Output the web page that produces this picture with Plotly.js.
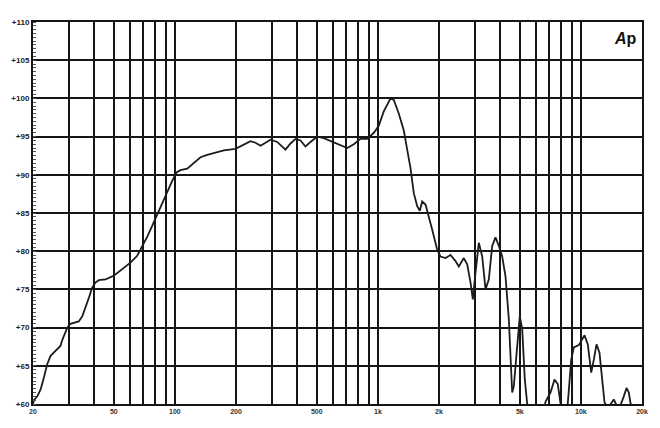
<!DOCTYPE html>
<html>
<head>
<meta charset="utf-8">
<script src="https://cdn.plot.ly/plotly-3.0.1.min.js"></script>
<style>
  html, body { margin: 0; padding: 0; background: #fff; }
  #chart { width: 660px; height: 428px; }
</style>
</head>
<body>
<div id="chart"></div>
<script>
// frequency response (Hz / dB)
const freq = [
  20, 20.2, 21.0, 21.8, 22.6, 23.5, 24.4, 25.3, 26.3, 27.3, 27.9, 28.9, 29.5, 30.6,
  32.4, 33.6, 35.0, 36.3, 37.7, 39.1, 40.6, 42.2, 45.5, 50.0, 55.0, 60.4, 65.2, 69.0,
  73.1, 77.3, 81.8, 86.6, 91.7, 97.0, 101.8, 106.6, 115.0, 123.9, 133.7, 144.3, 155.5,
  174.2, 198.9, 214.6, 235.8, 249.6, 264.1, 279.5, 295.8, 319.2, 350.7, 371.1, 392.7,
  415.6, 439.9, 465.6, 502.4, 541.4, 595.6, 654.5, 706.1, 761.0, 820.9, 885.9, 954.7,
  1010, 1069, 1154, 1198, 1268, 1342, 1394, 1447, 1503, 1562, 1609, 1653, 1716, 1782,
  1852, 1959, 2034, 2154, 2279, 2412, 2504, 2650, 2754, 2860, 2935, 3026, 3142, 3266,
  3390, 3518, 3657, 3796, 3942, 4096, 4252, 4416, 4588, 4672, 4856, 5000, 5140, 5294,
  5440, 5800, 6400, 6692, 7084, 7414, 7696, 7936, 8200, 8620, 8960, 9228, 9768, 10420,
  10816, 11242, 11578, 11938, 12350, 12736, 13074, 13600, 14264, 14526, 14810, 15500,
  16272, 16778, 17220, 17554, 18500, 20000
];
const level = [
  60.0, 60.5, 61.0, 61.9, 63.4, 65.2, 66.3, 66.7, 67.2, 67.6, 68.4, 69.3, 70.0, 70.5,
  70.7, 70.8, 71.5, 72.6, 73.9, 75.2, 75.9, 76.2, 76.3, 76.8, 77.6, 78.5, 79.4, 80.6,
  81.9, 83.3, 84.8, 86.1, 87.6, 89.2, 90.3, 90.6, 90.8, 91.5, 92.3, 92.6, 92.8,
  93.2, 93.4, 93.8, 94.4, 94.2, 93.8, 94.2, 94.6, 94.3, 93.3, 94.1, 94.7,
  94.5, 93.7, 94.3, 95.0, 94.8, 94.3, 93.8, 93.5, 94.0, 94.7, 94.7, 95.5,
  96.4, 98.3, 100.0, 99.8, 98.0, 95.8, 93.3, 90.9, 87.6, 85.9, 85.3, 86.5, 86.1, 84.6,
  82.8, 80.2, 79.3, 79.1, 79.5, 78.7, 78.0, 79.1, 78.3, 75.9, 73.7, 77.2, 81.1, 79.3,
  75.0, 76.3, 80.7, 81.8, 80.7, 79.3, 76.7, 71.1, 61.5, 62.3, 68.0, 71.5, 69.8, 63.2,
  60.0, 57.0, 57.0, 60.3, 61.5, 63.2, 62.6, 60.1, 58.5, 60.1, 65.8, 67.4, 67.7, 69.0,
  67.8, 64.1, 65.8, 67.8, 66.7, 62.8, 60.2, 59.5, 60.4, 60.6, 60.1, 59.5,
  61.0, 62.1, 61.5, 60.1, 59.0, 59.0
];

// grid lines: 1..9 per decade, labels only on 1-2-5
const gridFreq = [
  20, 30, 40, 50, 60, 70, 80, 90, 100, 200, 300, 400, 500, 600, 700, 800, 900,
  1000, 2000, 3000, 4000, 5000, 6000, 7000, 8000, 9000, 10000, 20000
];
const gridText = [
  '20', '', '', '50', '', '', '', '', '100', '200', '', '', '500', '', '', '', '',
  '1k', '2k', '', '', '5k', '', '', '', '', '10k', '20k'
];
const dbTicks = [60, 65, 70, 75, 80, 85, 90, 95, 100, 105, 110];
const dbText = dbTicks.map(v => '+' + v);

const trace = {
  x: freq,
  y: level,
  type: 'scatter',
  mode: 'lines',
  line: { color: '#1c1c1c', width: 1.8 },
  hoverinfo: 'skip'
};

const layout = {
  width: 660,
  height: 428,
  margin: { l: 33, r: 18, t: 22, b: 24 },
  paper_bgcolor: '#fff',
  plot_bgcolor: '#fff',
  showlegend: false,
  xaxis: {
    type: 'log',
    range: [Math.log10(20), Math.log10(20000)],
    tickvals: gridFreq,
    ticktext: gridText,
    showgrid: true,
    gridcolor: '#161616',
    gridwidth: 2,
    showline: true,
    linecolor: '#161616',
    linewidth: 2,
    mirror: true,
    ticks: '',
    zeroline: false,
    tickfont: { family: 'Liberation Sans, Arial, sans-serif', size: 7, color: '#333', weight: 'bold' }
  },
  yaxis: {
    range: [60, 110],
    tickvals: dbTicks,
    ticktext: dbText,
    showgrid: true,
    gridcolor: '#161616',
    gridwidth: 2,
    showline: true,
    linecolor: '#161616',
    linewidth: 2,
    mirror: true,
    ticks: '',
    zeroline: false,
    minor: { dtick: 0.5, ticks: 'inside', ticklen: 3, tickcolor: '#555', showgrid: false },
    tickfont: { family: 'Liberation Sans, Arial, sans-serif', size: 8, color: '#222', weight: 'bold' }
  },
  annotations: [{
    text: '<b><i>A</i>p</b>',
    xref: 'paper', yref: 'paper',
    x: 0.995, y: 0.985,
    xanchor: 'right', yanchor: 'top',
    showarrow: false,
    font: { family: 'Liberation Sans, Arial, sans-serif', size: 16, color: '#111' }
  }]
};

Plotly.newPlot('chart', [trace], layout, { staticPlot: true, displayModeBar: false });
</script>
</body>
</html>
